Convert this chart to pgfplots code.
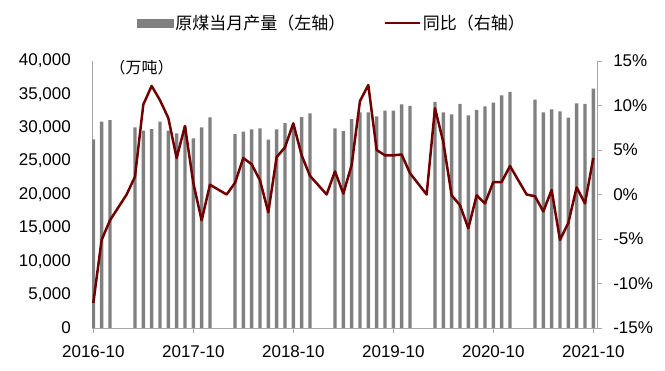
\documentclass[border=0pt]{standalone}
\usepackage{pgfplots}
\pgfplotsset{compat=1.18}
\usepackage{fontspec}
\setmainfont{Liberation Sans}
\newfontfamily\cjk{Noto Sans CJK SC}
\definecolor{barcol}{RGB}{128,128,128}
\definecolor{linecol}{RGB}{112,0,0}
\definecolor{axcol}{RGB}{166,166,166}
\begin{document}
\begin{tikzpicture}
\useasboundingbox (0,0) rectangle (665bp,371bp);
\begin{axis}[
 at={(92.05bp,43bp)}, anchor=south west,
 scale only axis, width=505bp, height=267bp,
 xmin=-0.15, xmax=60.45, ymin=0, ymax=40000,
 axis x line*=bottom, axis y line*=left,
 axis line style={draw=axcol, line width=0.8bp, -},
 xtick={0,12,24,36,48,60},
 xticklabels={2016-10,2017-10,2018-10,2019-10,2020-10,2021-10},
 xtick align=outside, major tick length=5bp,
 x tick style={draw=axcol, line width=0.8bp},
 ytick={0,5000,...,40000},
 y tick style={draw=none},
 tick label style={font=\fontsize{17bp}{20bp}\selectfont},
 /pgf/number format/.cd, 1000 sep={,}, assume math mode=true, /pgfplots/.cd,
 yticklabel style={inner sep=0pt, xshift=-21bp},
 xticklabel style={inner sep=0pt, yshift=-12bp},
 scaled y ticks=false,
]
\addplot[ybar, bar width=3.4bp, fill=barcol, draw=none] coordinates {
(0,28270) (1,30910) (2,31160)
(5,30060) (6,29560) (7,29810) (8,30910) (9,29560) (10,29160) (11,30200) (12,28410) (13,30060) (14,31560)
(17,29060) (18,29410) (19,29760) (20,29910) (21,28210) (22,29760) (23,30710) (24,30400) (25,31610) (26,32160)
(29,29910) (30,29510) (31,31310) (32,32300) (33,32310) (34,31710) (35,32560) (36,32560) (37,33510) (38,33260)
(41,33860) (42,32310) (43,32010) (44,33560) (45,31860) (46,32660) (47,33210) (48,33760) (49,34860) (50,35360)
(53,34200) (54,32310) (55,32760) (56,32460) (57,31510) (58,33660) (59,33560) (60,35850)
};
\node[font=\cjk\fontsize{16bp}{18bp}\selectfont] at (rel axis cs:0.098,0.9757) {（万吨）};
\end{axis}
\begin{axis}[
 at={(92.05bp,43bp)}, anchor=south west,
 scale only axis, width=505bp, height=267bp,
 xmin=-0.15, xmax=60.45, ymin=-15, ymax=15,
 axis x line=none, axis y line*=right,
 axis line style={draw=axcol, line width=0.8bp, -},
 ytick={-15,-10,...,15},
 yticklabels={-15\%,-10\%,-5\%,0\%,5\%,10\%,15\%},
 ytick align=outside, major tick length=5bp,
 y tick style={draw=axcol, line width=0.8bp},
 tick label style={font=\fontsize{17bp}{20bp}\selectfont},
 yticklabel style={inner sep=0pt, xshift=11bp},
 legend columns=2,
 legend style={at={(0.0884,1.142)}, anchor=west, draw=none, fill=none, inner sep=0pt,
   font=\cjk\fontsize{17bp}{20bp}\selectfont,
   /tikz/every even column/.append style={column sep=36bp},
   nodes={inner sep=2bp}},
]
\addlegendimage{legend image code/.code={\fill[barcol] (0bp,-4bp) rectangle (36bp,4bp);}}
\addlegendentry{原煤当月产量（左轴）}
\addplot[linecol, line width=2.5bp, line join=round, mark=none,
  legend image code/.code={\draw[linecol, line width=2.5bp] (0bp,0bp) -- (35bp,0bp);}] coordinates {
(0,-12.2) (1,-5.1) (2,-2.9) (4,0) (5,2.0) (6,10.1) (7,12.2) (8,10.6) (9,8.6) (10,4.1) (11,7.7) (12,1.3) (13,-2.9) (14,1.1)
(16,0) (17,1.3) (18,4.1) (19,3.4) (20,1.6) (21,-2.0) (22,4.2) (23,5.3) (24,8.0) (25,4.4) (26,2.1)
(28,0) (29,2.6) (30,0.1) (31,3.3) (32,10.5) (33,12.3) (34,5.0) (35,4.4) (36,4.4) (37,4.5) (38,2.4)
(40,0) (41,9.7) (42,5.9) (43,-0.1) (44,-1.2) (45,-3.8) (46,-0.1) (47,-1.0) (48,1.4) (49,1.4) (50,3.2)
(52,0) (53,-0.2) (54,-1.9) (55,0.5) (56,-5.1) (57,-3.2) (58,0.8) (59,-1.0) (60,4.1)
};
\addlegendentry{同比（右轴）}
\end{axis}
\end{tikzpicture}
\end{document}
